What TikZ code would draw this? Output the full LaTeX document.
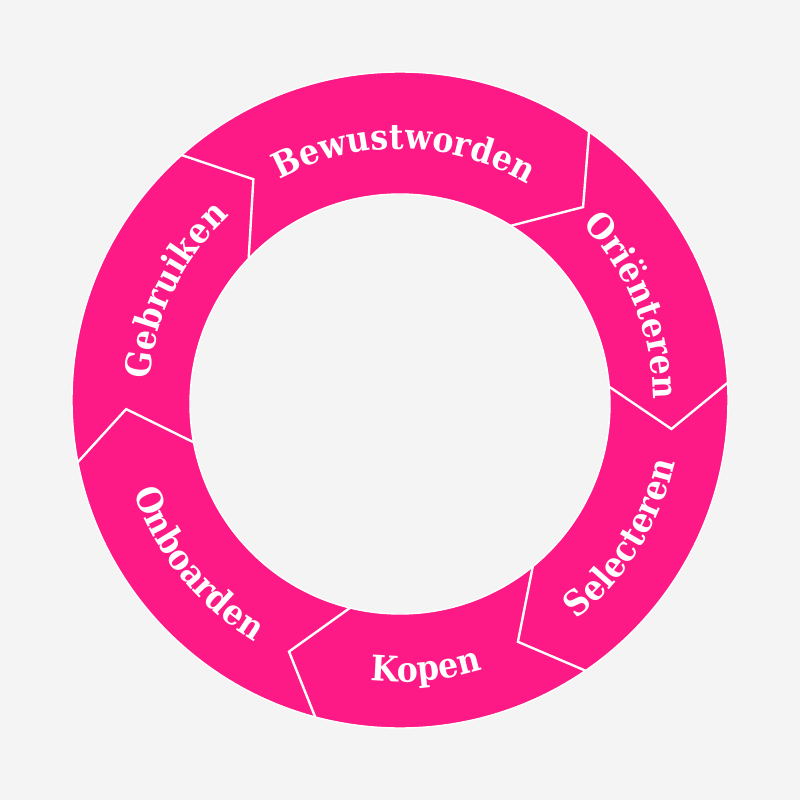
\documentclass[tikz,border=0pt]{standalone}
\usepackage{fontspec}
\newfontfamily\stagefont{DejaVu Serif Condensed}
\usetikzlibrary{calc,decorations.text}
\definecolor{ringpink}{RGB}{253,26,134}
\definecolor{paper}{RGB}{244,244,244}
\begin{document}
\begin{tikzpicture}[x=0.25mm, y=0.25mm,
    divider/.style={white, line width=1.7pt, line join=miter},
    stagetext/.style={decorate, decoration={text along path, text align=center,
      text={|\stagefont\bfseries\fontsize{25}{29}\selectfont\color{white}|#1}}}]

      \fill[paper] (-400,-400) rectangle (400,400);
      \fill[ringpink, even odd rule] (0,0) circle[radius=328] (0,-4) circle[radius=210];
      \draw[white, line width=1pt] (0,0) circle[radius=328] (0,-4) circle[radius=210];

      \draw[divider] (131.7:328) -- (123.6:265) -- ($(0,-4)+(136.1:210)$);
      \draw[divider] (54.8:328) -- (46.5:266) -- ($(0,-4)+(58.1:210)$);
      \draw[divider] (3.0:328) -- (-6.1:273) -- ($(0,-4)+(4.7:210)$);
      \draw[divider] (-55.6:328) -- (-64.0:269) -- ($(0,-4)+(-50.8:210)$);
      \draw[divider] (-105.0:328) -- (-113.8:275) -- ($(0,-4)+(-103.8:210)$);
      \draw[divider] (-169.1:328) -- (-178.1:274) -- ($(0,-4)+(-169.5:210)$);

      \path[stagetext=Bewustworden] (139:251) arc[start angle=139, end angle=39, radius=251];
      \path[stagetext=Oriënteren] (72:253) arc[start angle=72, end angle=-28, radius=253];
      \path[stagetext=Gebruiken] (204:251) arc[start angle=204, end angle=104, radius=251];
      \path[stagetext=Selecteren] (-82:282) arc[start angle=-82, end angle=18, radius=282];
      \path[stagetext=Kopen] (-134.5:282) arc[start angle=-134.5, end angle=-34.5, radius=282];
      \path[stagetext=Onboarden] (169:282) arc[start angle=169, end angle=269, radius=282];

    \end{tikzpicture}
\end{document}
